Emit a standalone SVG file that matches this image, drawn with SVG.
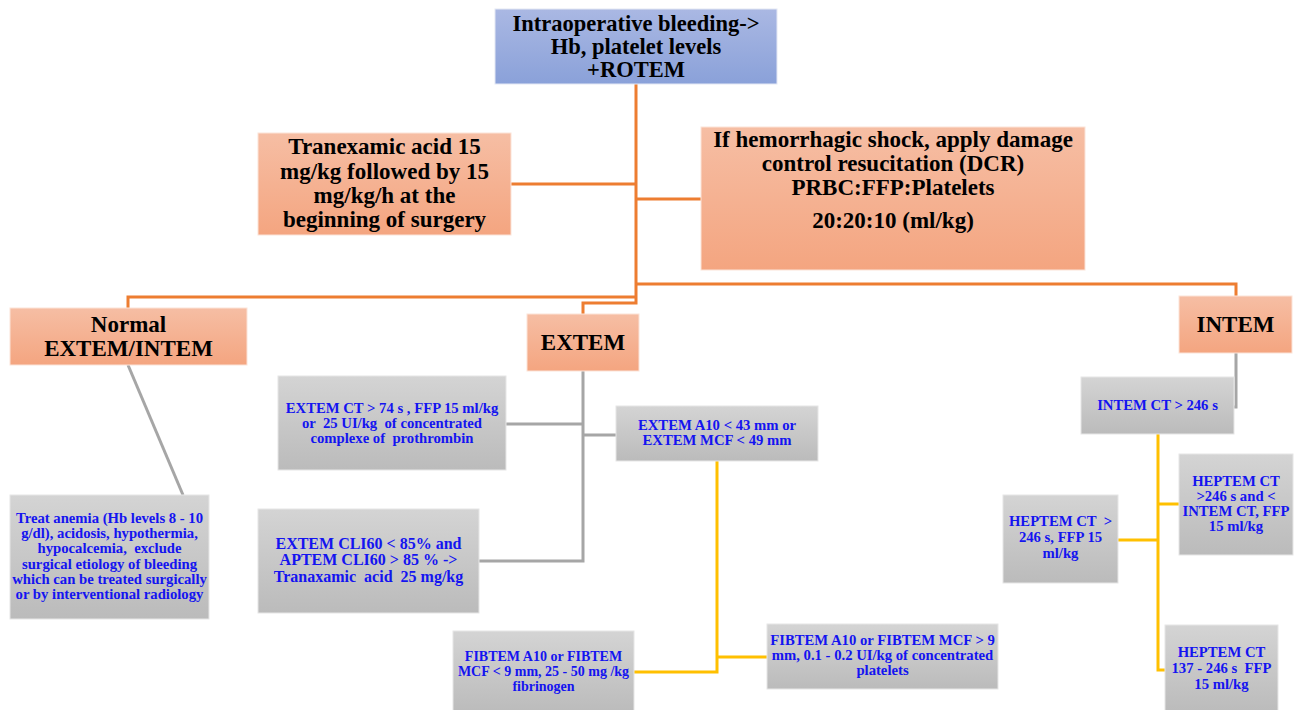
<svg xmlns="http://www.w3.org/2000/svg" width="1298" height="710" viewBox="0 0 1298 710">
<defs>
<linearGradient id="gBlue" x1="0" y1="0" x2="0" y2="1"><stop offset="0" stop-color="#aab8e3"/><stop offset="1" stop-color="#8aa1d9"/></linearGradient>
<linearGradient id="gOr" x1="0" y1="0" x2="0" y2="1"><stop offset="0" stop-color="#f6bea4"/><stop offset="1" stop-color="#f4a580"/></linearGradient>
<linearGradient id="gGr" x1="0" y1="0" x2="0" y2="1"><stop offset="0" stop-color="#d4d4d4"/><stop offset="1" stop-color="#bbbbbb"/></linearGradient>
</defs>
<style>
.blue{fill:url(#gBlue);stroke:#e4e8f4;stroke-width:1}
.or{fill:url(#gOr);stroke:#fbe3d8;stroke-width:1}
.gr{fill:url(#gGr);stroke:#e6e6e6;stroke-width:1}
.tk{font-family:"Liberation Serif","Times New Roman",serif;font-weight:bold;fill:#000;text-anchor:middle;white-space:pre}
.tb{font-family:"Liberation Serif","Times New Roman",serif;font-weight:bold;fill:#1414f0;text-anchor:middle;white-space:pre;font-size:14.7px}
.lo{fill:none;stroke:#ed7d31;stroke-width:3}
.lg{fill:none;stroke:#a6a6a6;stroke-width:3}
.ly{fill:none;stroke:#ffc000;stroke-width:3}
</style>
<rect width="1298" height="710" fill="#fff"/>
<g id="connectors">
<polyline class="lo" points="636,84 636,303 583,303 583,314"/>
<polyline class="lo" points="511,184 636,184"/>
<polyline class="lo" points="636,199 701,199"/>
<polyline class="lo" points="636,297 128,297 128,308"/>
<polyline class="lo" points="636,284 1236,284 1236,296"/>
<polyline class="lg" points="583,371 583,561 479,561"/>
<polyline class="lg" points="506,424 583,424"/>
<polyline class="lg" points="583,435 616,435"/>
<polyline class="lg" points="128,365 183,495"/>
<polyline class="lg" points="1236,352 1236,407 1234,407"/>
<polyline class="ly" points="717,461 717,672 634,672"/>
<polyline class="ly" points="717,657 767,657"/>
<polyline class="ly" points="1158,434 1158,670 1165,670"/>
<polyline class="ly" points="1118,540 1158,540"/>
<polyline class="ly" points="1158,504 1179,504"/>
</g>
<g id="n-start">
<rect class="blue" x="495" y="9" width="282" height="75"/>
<text class="tk" font-size="22.5" x="636" y="31">Intraoperative bleeding-&gt;</text>
<text class="tk" font-size="22.5" x="636" y="54">Hb, platelet levels</text>
<text class="tk" font-size="22.5" x="636" y="77">+ROTEM</text>
</g>
<g id="n-tranexamic">
<rect class="or" x="258" y="133" width="253" height="102"/>
<text class="tk" font-size="23" x="384.5" y="154">Tranexamic acid 15</text>
<text class="tk" font-size="23" x="384.5" y="179">mg/kg followed by 15</text>
<text class="tk" font-size="23" x="384.5" y="203">mg/kg/h at the</text>
<text class="tk" font-size="23" x="384.5" y="227">beginning of surgery</text>
</g>
<g id="n-dcr">
<rect class="or" x="701" y="127" width="384" height="143"/>
<text class="tk" font-size="23" x="893" y="147">If hemorrhagic shock, apply damage</text>
<text class="tk" font-size="23" x="893" y="171">control resucitation (DCR)</text>
<text class="tk" font-size="23" x="893" y="195">PRBC:FFP:Platelets</text>
<text class="tk" font-size="23" x="893" y="228">20:20:10 (ml/kg)</text>
</g>
<g id="n-normal">
<rect class="or" x="10" y="308" width="237" height="57"/>
<text class="tk" font-size="23" x="128.5" y="332">Normal</text>
<text class="tk" font-size="23" x="128.5" y="356">EXTEM/INTEM</text>
</g>
<g id="n-extem">
<rect class="or" x="527" y="314" width="112" height="57"/>
<text class="tk" font-size="23" x="583" y="350">EXTEM</text>
</g>
<g id="n-intem">
<rect class="or" x="1179" y="296" width="113" height="57"/>
<text class="tk" font-size="23" x="1235.5" y="332">INTEM</text>
</g>
<g id="n-extem-ct">
<rect class="gr" x="278" y="376" width="228" height="94"/>
<text class="tb" x="392" y="413">EXTEM CT &gt; 74 s , FFP 15 ml/kg</text>
<text class="tb" x="392" y="428">or  25 UI/kg  of concentrated</text>
<text class="tb" x="392" y="443">complexe of  prothrombin</text>
</g>
<g id="n-extem-a10">
<rect class="gr" x="616" y="406" width="202" height="55"/>
<text class="tb" x="717" y="430">EXTEM A10 &lt; 43 mm or</text>
<text class="tb" x="717" y="445">EXTEM MCF &lt; 49 mm</text>
</g>
<g id="n-cli60">
<rect class="gr" x="258" y="509" width="221" height="104"/>
<text class="tb" style="font-size:16px" x="368.5" y="549">EXTEM CLI60 &lt; 85% and</text>
<text class="tb" style="font-size:16px" x="368.5" y="565">APTEM CLI60 &gt; 85 % -&gt;</text>
<text class="tb" style="font-size:16px" x="368.5" y="582">Tranaxamic  acid  25 mg/kg</text>
</g>
<g id="n-treat">
<rect class="gr" x="10" y="495" width="199" height="124"/>
<text class="tb" x="109.5" y="523">Treat anemia (Hb levels 8 - 10</text>
<text class="tb" x="109.5" y="538">g/dl), acidosis, hypothermia,</text>
<text class="tb" x="109.5" y="553">hypocalcemia,  exclude</text>
<text class="tb" x="109.5" y="569">surgical etiology of bleeding</text>
<text class="tb" x="109.5" y="584">which can be treated surgically</text>
<text class="tb" x="109.5" y="599">or by interventional radiology</text>
</g>
<g id="n-intem-ct">
<rect class="gr" x="1081" y="377" width="153" height="57"/>
<text class="tb" x="1157.5" y="410">INTEM CT &gt; 246 s</text>
</g>
<g id="n-heptem-a">
<rect class="gr" x="1179" y="454" width="114" height="101"/>
<text class="tb" x="1236" y="486">HEPTEM CT</text>
<text class="tb" x="1236" y="501">&gt;246 s and &lt;</text>
<text class="tb" x="1236" y="516">INTEM CT, FFP</text>
<text class="tb" x="1236" y="531">15 ml/kg</text>
</g>
<g id="n-heptem-b">
<rect class="gr" x="1003" y="495" width="115" height="88"/>
<text class="tb" x="1060.5" y="526">HEPTEM CT  &gt;</text>
<text class="tb" x="1060.5" y="542">246 s, FFP 15</text>
<text class="tb" x="1060.5" y="558">ml/kg</text>
</g>
<g id="n-heptem-c">
<rect class="gr" x="1165" y="625" width="113" height="88"/>
<text class="tb" x="1221.5" y="657">HEPTEM CT</text>
<text class="tb" x="1221.5" y="673">137 - 246 s  FFP</text>
<text class="tb" x="1221.5" y="689">15 ml/kg</text>
</g>
<g id="n-fibtem-low">
<rect class="gr" x="453" y="631" width="181" height="82"/>
<text class="tb" style="font-size:14px" x="543.5" y="661">FIBTEM A10 or FIBTEM</text>
<text class="tb" style="font-size:14px" x="543.5" y="676">MCF &lt; 9 mm, 25 - 50 mg /kg</text>
<text class="tb" style="font-size:14px" x="543.5" y="691">fibrinogen</text>
</g>
<g id="n-fibtem-high">
<rect class="gr" x="767" y="624" width="231" height="65"/>
<text class="tb" x="882.5" y="645">FIBTEM A10 or FIBTEM MCF &gt; 9</text>
<text class="tb" x="882.5" y="660">mm, 0.1 - 0.2 UI/kg of concentrated</text>
<text class="tb" x="882.5" y="675">platelets</text>
</g>
</svg>
